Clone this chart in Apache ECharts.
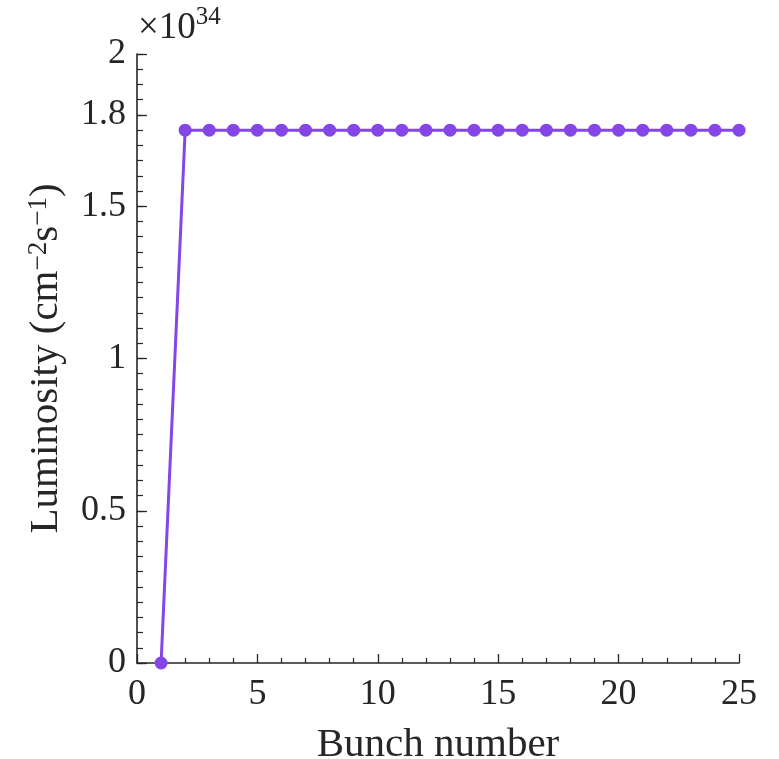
<!DOCTYPE html>
<html><head><meta charset="utf-8">
<script src="https://cdn.jsdelivr.net/npm/echarts@6/dist/echarts.min.js"></script>
<style>html,body{margin:0;padding:0;background:#fff}#c{width:779px;height:759px}</style>
</head><body><div id="c"></div>
<script>
const bunches = [1,2,3,4,5,6,7,8,9,10,11,12,13,14,15,16,17,18,19,20,21,22,23,24,25];
const luminosity = [0,1.75,1.75,1.75,1.75,1.75,1.75,1.75,1.75,1.75,1.75,1.75,1.75,1.75,1.75,1.75,1.75,1.75,1.75,1.75,1.75,1.75,1.75,1.75,1.75];
const xTicks = [0,5,10,15,20,25];
const yTicks = [0,0.5,1,1.5,1.8,2];
const xName = 'Bunch number';

const FONT = '"Liberation Serif", "DejaVu Serif", serif';
const AX = '#262626';
const PURPLE = '#8446e6';
const chart = echarts.init(document.getElementById('c'), null, {renderer:'canvas'});
const data = bunches.map((b,i)=>[b, luminosity[i]]);
chart.setOption({
  animation:false,
  backgroundColor:'#fff',
  grid: {left:137, right:40, top:54, bottom:96, containLabel:false, outerBoundsMode:'none'},
  xAxis: {
    type:'value', min:0, max:25, interval:5,
    name: xName, nameLocation:'middle', nameGap:62,
    nameTextStyle:{fontFamily:FONT, fontSize:41, color:AX},
    axisLine:{show:true, onZero:false, lineStyle:{color:AX, width:1.6}},
    axisTick:{show:true, inside:true, length:9, lineStyle:{color:AX, width:1.3}},
    minorTick:{show:true, splitNumber:5, length:5, lineStyle:{color:AX, width:1.2}},
    splitLine:{show:false},
    axisLabel:{fontFamily:FONT, fontSize:36, color:AX, margin:14,
      customValues: xTicks, formatter: v=>String(v)}
  },
  yAxis: [{
    type:'value', min:0, max:2, interval:0.05,
    axisLine:{show:true, onZero:false, lineStyle:{color:AX, width:1.6}},
    axisTick:{show:true, inside:true, length:6, lineStyle:{color:AX, width:1.2}},
    axisLabel:{show:false},
    splitLine:{show:false}
  },{
    type:'value', min:0, max:2, position:'left',
    name: '{n|Luminosity (cm}{s|−2}{n|s}{s|−1}{n|)}',
    nameLocation:'middle', nameGap:70, nameRotate:90,
    nameTextStyle:{fontFamily:FONT, fontSize:41, color:AX,
      rich:{
        n:{fontFamily:FONT, fontSize:41, color:AX, lineHeight:42, verticalAlign:'bottom'},
        s:{fontFamily:FONT, fontSize:27, color:AX, lineHeight:42, verticalAlign:'top'}
      }},
    axisLine:{show:false},
    axisTick:{show:true, inside:true, length:10, customValues: yTicks, lineStyle:{color:AX, width:1.3}},
    axisLabel:{fontFamily:FONT, fontSize:36, color:AX, margin:11,
      customValues: yTicks, formatter: v=>String(v)},
    splitLine:{show:false}
  }],
  graphic:[{
    type:'text', left:138, top:5,
    style:{text:'{a|×10}{b|34}', rich:{
      a:{fontFamily:FONT, fontSize:37, fill:AX, verticalAlign:'bottom', lineHeight:42},
      b:{fontFamily:FONT, fontSize:25, fill:AX, verticalAlign:'top', lineHeight:42}
    }}
  }],
  series:[{
    type:'line', data:data, yAxisIndex:0,
    lineStyle:{color:PURPLE, width:3},
    itemStyle:{color:PURPLE},
    symbol:'circle', symbolSize:13, showSymbol:true
  }]
});
</script></body></html>
